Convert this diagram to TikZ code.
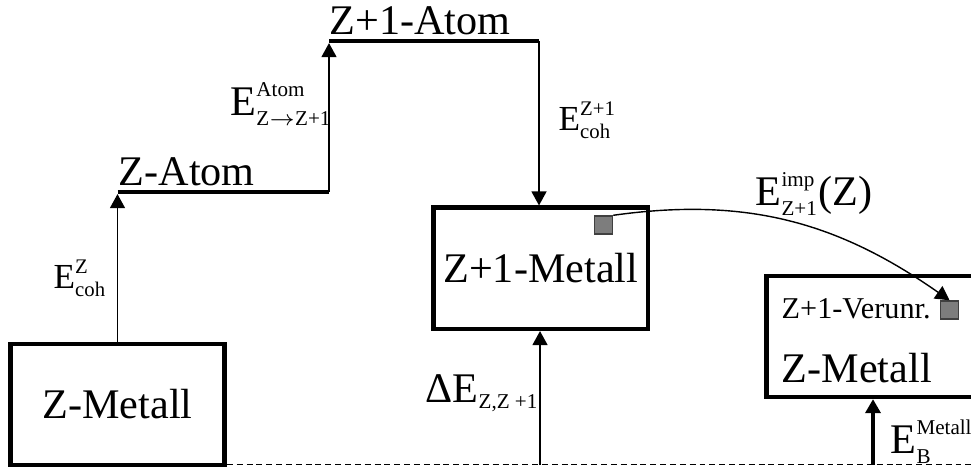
\documentclass[tikz,border=0pt]{standalone}
\usepackage{fontspec}
\setmainfont{Liberation Serif}
\usepackage{amsmath}
\usetikzlibrary{arrows.meta}
\DeclareMathSizes{12}{12}{6}{4.5}
\DeclareMathSizes{10}{10}{5.9}{4.2}
\definecolor{impgray}{RGB}{125,125,125}
\newcommand{\lvlfont}{\fontsize{12}{14}\selectfont}
\newcommand{\cohfont}{\fontsize{10}{12}\selectfont}
\newcommand{\verfont}{\fontsize{8.6}{10}\selectfont}
\tikzset{
  metbox/.style={draw, line width=1.3pt, minimum width=2.14cm, minimum height=1.21cm,
    inner sep=0pt, font=\lvlfont},
  levelline/.style={line width=1.3pt},
  erg/.style={line width=0.4pt, -{Triangle[length=0.14cm,width=0.15cm]}},
  imp/.style={draw=black!75, fill=impgray, line width=0.4pt, minimum size=0.18cm, inner sep=0pt},
  lbl/.style={inner sep=0pt, anchor=base west}
}

\begin{document}
\begin{tikzpicture}[x=0.01cm, y=-0.01cm]
  \useasboundingbox (0,0) rectangle (971,470);
  \clip (0,0) rectangle (971,470);
  % metal boxes
  \node[metbox] (zmet) at (117.5,404.5) {Z-Metall};
  \node[metbox] (zpmet) at (540.75,268.25) {Z+1-Metall};
  \node[metbox, anchor=north west] (zmetr) at (764,273.5) {};
  \node[lbl, font=\verfont] (verunr) at (781,318) {Z+1-Verunr.};
  \node[lbl, font=\lvlfont] (zmetrtxt) at (781,382) {Z-Metall};
  % impurity squares
  \node[imp] (imp1) at (603.5,225) {};
  \node[imp] (imp2) at (949.5,310) {};
  % atom levels
  \coordinate (zat0) at (117.5,192);
  \coordinate (zat1) at (329,192);
  \coordinate (zpat0) at (329,41);
  \coordinate (zpat1) at (539,41);
  \draw[levelline] (zat0) -- (zat1);
  \draw[levelline] (zpat0) -- (zpat1);
  \node[lbl, font=\lvlfont] (zatom) at (118,185) {Z-Atom};
  \node[lbl, font=\lvlfont] (zpatom) at (329,35) {Z+1-Atom};
  % reference level
  \coordinate (gnd0) at (zmet.east |- 0,464.5);
  \coordinate (gnd1) at (971,464.5);
  \draw[line width=0.4pt, dash pattern=on 1.7pt off 1.1pt] (gnd0) -- (gnd1);
  \coordinate (de) at (540,464.5);
  \coordinate (eb) at (873,464.5);
  % energy steps
  \draw[erg, shorten >=0.6pt] (zmet.north) -- (zat0);
  \draw[erg, shorten >=0.6pt] (zat1) -- (zpat0);
  \draw[erg] (zpat1) -- (zpat1 |- zpmet.north);
  \draw[erg] (de) -- (de |- zpmet.south);
  \draw[erg, line width=1.4pt] (eb) -- (eb |- zmetr.south);
  \draw[erg] (imp1.north east) to[out=8, in=145] (imp2.north);
  % labels
  \node[lbl, font=\cohfont] (lcohz) at (53,288) {$\text{E}^{\text{Z}}_{\text{coh}}$};
  \node[lbl, font=\lvlfont] (latom) at (230,115) {$\text{E}^{\text{Atom}}_{\text{Z}\rightarrow\text{Z+1}}$};
  \node[lbl, font=\cohfont] (lcohzp) at (558,130) {$\text{E}^{\text{Z+1}}_{\text{coh}}$};
  \node[lbl, font=\lvlfont] (limp) at (755,205) {$\text{E}^{\text{imp}}_{\text{Z+1}}\text{(Z)}$};
  \node[lbl, font=\lvlfont] (lde) at (425,402) {$\text{ΔE}_{\text{Z,Z +1}}$};
  \node[lbl, font=\lvlfont] (leb) at (890,453) {$\text{E}^{\text{Metall}}_{\text{B}}$};
\end{tikzpicture}
\end{document}
